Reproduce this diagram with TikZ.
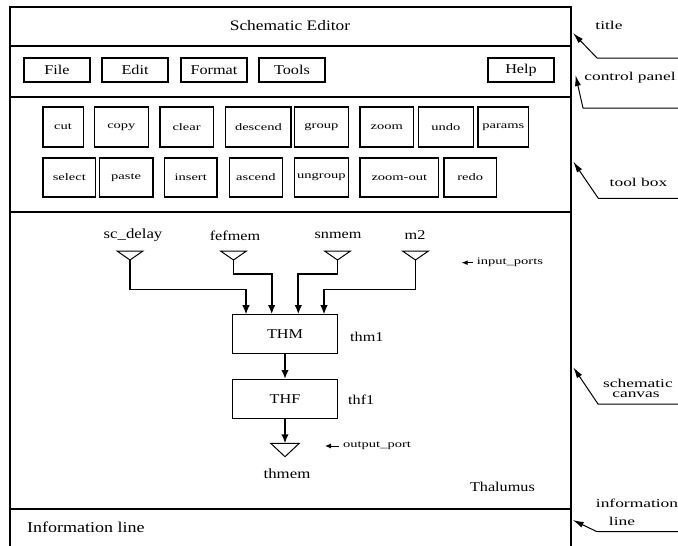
\documentclass[tikz,border=0pt]{standalone}
\usepackage{fontspec}
\setmainfont[FakeStretch=1.2]{Liberation Serif}
\newfontfamily\widefont[FakeStretch=1.45]{Liberation Serif}
\usetikzlibrary{arrows.meta}
\begin{document}
\begin{tikzpicture}[x=1pt,y=-1pt,
  frame/.style={line width=1.4pt},
  sep/.style={line width=2pt},
  btn/.style={draw,line width=1.3pt,minimum height=24pt,minimum width=66pt,inner sep=0pt,font=\fontsize{13.5}{16}\selectfont},
  tbtn/.style={draw,line width=1.3pt,inner sep=0pt,font=\widefont\fontsize{10}{12}\selectfont},
  blk/.style={draw,line width=1.1pt,minimum width=104.6pt,minimum height=38.5pt,inner sep=0pt,font=\fontsize{13.5}{16}\selectfont},
  lbl/.style={inner sep=0pt,font=\fontsize{13.5}{16}\selectfont},
  note/.style={inner sep=0pt,font=\widefont\fontsize{12}{13}\selectfont},
  small/.style={inner sep=0pt,font=\widefont\fontsize{10}{12}\selectfont},
  conn/.style={line width=1.2pt,-{Latex[length=9pt,width=7.5pt]}},
  bconn/.style={line width=1.8pt,-{Latex[length=9pt,width=7.5pt]}},
  port/.style={line width=1pt,line join=miter},
  callout/.style={line width=1pt,-{Latex[length=11pt,width=6pt]}},
  legend/.style={line width=1pt,-{Latex[length=6pt,width=5pt]}},
]
\fill[white] (0,0) rectangle (678,546);
\useasboundingbox (0,0) rectangle (678,546);

% outer frame and panel separators
\draw[frame] (10,546) -- (10,7) -- (571,7) -- (571,546);
\draw[sep] (10,46) -- (571,46);
\draw[sep] (10,96.5) -- (571,96.5);
\draw[sep] (10,211.5) -- (571,211.5);
\draw[sep] (10,508.5) -- (571,508.5);

% title
\node[lbl,font=\fontsize{14.5}{17}\selectfont] (title) at (290,26) {Schematic Editor};

% control panel
\node[btn] (file) at (57,70) {File};
\node[btn] (edit) at (135,70) {Edit};
\node[btn] (format) at (214,70) {Format};
\node[btn] (tools) at (292,70) {Tools};
\node[btn] (help) at (521,70) {Help};

% tool box row 1
\node[tbtn,minimum width=40.3pt,minimum height=40pt] (cut) at (63,127) {cut};
\node[tbtn,minimum width=53.6pt,minimum height=40pt] (copy) at (121.4,127) {copy};
\node[tbtn,minimum width=53.2pt,minimum height=40pt] (clear) at (186.6,127) {clear};
\node[tbtn,minimum width=65.3pt,minimum height=40pt] (descend) at (258.4,127) {descend};
\node[tbtn,minimum width=53.6pt,minimum height=40pt] (group) at (321.4,127) {group};
\node[tbtn,minimum width=53.6pt,minimum height=40pt] (zoom) at (386.8,127) {zoom};
\node[tbtn,minimum width=54.6pt,minimum height=40pt] (undo) at (445.9,127) {undo};
\node[tbtn,minimum width=50.7pt,minimum height=40pt] (params) at (503.3,127) {params};
% tool box row 2
\node[tbtn,minimum width=52.8pt,minimum height=39pt] (select) at (69.3,177.5) {select};
\node[tbtn,minimum width=53.6pt,minimum height=39pt] (paste) at (126.1,177.5) {paste};
\node[tbtn,minimum width=52.8pt,minimum height=39pt] (insert) at (190.7,177.5) {insert};
\node[tbtn,minimum width=52.5pt,minimum height=39pt] (ascend) at (255.9,177.5) {ascend};
\node[tbtn,minimum width=53.6pt,minimum height=39pt] (ungroup) at (321.4,177.5) {ungroup};
\node[tbtn,minimum width=78.6pt,minimum height=39pt] (zoomout) at (399.3,177.5) {zoom-out};
\node[tbtn,minimum width=52.5pt,minimum height=39pt] (redo) at (470.2,177.5) {redo};

% schematic canvas: input port labels
\node[lbl,font=\fontsize{14}{16}\selectfont] (lsc) at (133,235) {sc\_delay};
\node[lbl] (lfef) at (235,236) {fefmem};
\node[lbl] (lsn) at (338,235) {snmem};
\node[lbl] (lm2) at (415,235) {m2};

% input port triangles (apex coordinates)
\draw[port] (117,251) -- (143,251) -- (130,260) -- cycle;
\coordinate (a1) at (130,260);
\draw[port] (220.5,251) -- (246.5,251) -- (233.5,260) -- cycle;
\coordinate (a2) at (233.5,260);
\draw[port] (324.5,251) -- (350.5,251) -- (337.5,260) -- cycle;
\coordinate (a3) at (337.5,260);
\draw[port] (402.5,251) -- (428.5,251) -- (415.5,260) -- cycle;
\coordinate (a4) at (415.5,260);

% blocks
\node[blk] (thm) at (285,334) {THM};
\node[blk] (thf) at (285,398.8) {THF};
\node[lbl,anchor=west] (thm1) at (350,337) {thm1};
\node[lbl,anchor=west] (thf1) at (348,400) {thf1};

% connectors into THM
\coordinate (k1) at (246,289.3);
\coordinate (k2) at (271.7,274);
\coordinate (k3) at (298.3,274);
\coordinate (k4) at (324,289.3);
\draw[conn] (a1) |- (k1) -- ([xshift=-39pt]thm.north);
\draw[bconn] (a2) |- (k2) -- ([xshift=-13.3pt]thm.north);
\draw[bconn] (a3) |- (k3) -- ([xshift=13.3pt]thm.north);
\draw[conn] (a4) |- (k4) -- ([xshift=39pt]thm.north);

% THM -> THF -> output port
\draw[bconn] (thm) -- (thf);
\coordinate (o1) at (285,443.3);
\draw[bconn] (thf) -- (o1);
\draw[port] (270.7,443.3) -- (299.3,443.3) -- (285,456.7) -- cycle;
\node[lbl,font=\fontsize{14}{16}\selectfont] (thmem) at (287,474) {thmem};

% legends
\coordinate (ip1) at (473,262.7);
\coordinate (ip2) at (461.7,262.7);
\draw[legend] (ip1) -- (ip2);
\node[small,anchor=west] (inports) at (476.7,262.7) {input\_ports};
\coordinate (op1) at (339,446);
\coordinate (op2) at (325,446);
\draw[legend] (op1) -- (op2);
\node[small,anchor=west] (outport) at (343,446) {output\_port};

\node[lbl,anchor=east] (thal) at (535,487) {Thalumus};
\node[lbl,anchor=west,font=\fontsize{15}{17}\selectfont] (info) at (27,527) {Information line};

% callouts
\node[note] (ntitle) at (609,25) {title};
\coordinate (ct0) at (678,58); \coordinate (ct1) at (597,58); \coordinate (ct2) at (573,33);
\draw[callout] (ct0) -- (ct1) -- (ct2);

\node[note] (ncp) at (630,78) {control panel};
\coordinate (cc0) at (678,108); \coordinate (cc1) at (583,108); \coordinate (cc2) at (575.5,75);
\draw[callout] (cc0) -- (cc1) -- (cc2);

\node[note] (ntb) at (638.5,182) {tool box};
\coordinate (cb0) at (678,198.3); \coordinate (cb1) at (598.3,198.3); \coordinate (cb2) at (573.3,161.7);
\draw[callout] (cb0) -- (cb1) -- (cb2);

\node[note] (nsc1) at (638,383) {schematic};
\node[note] (nsc2) at (636,395) {canvas};
\coordinate (cs0) at (678,404); \coordinate (cs1) at (598,404); \coordinate (cs2) at (573.3,367.3);
\draw[callout] (cs0) -- (cs1) -- (cs2);

\node[note] (nil1) at (637,503) {information};
\node[note] (nil2) at (622,521) {line};
\coordinate (ci0) at (678,531.7); \coordinate (ci1) at (597,531.7); \coordinate (ci2) at (572.7,520);
\draw[callout] (ci0) -- (ci1) -- (ci2);
\end{tikzpicture}
\end{document}
